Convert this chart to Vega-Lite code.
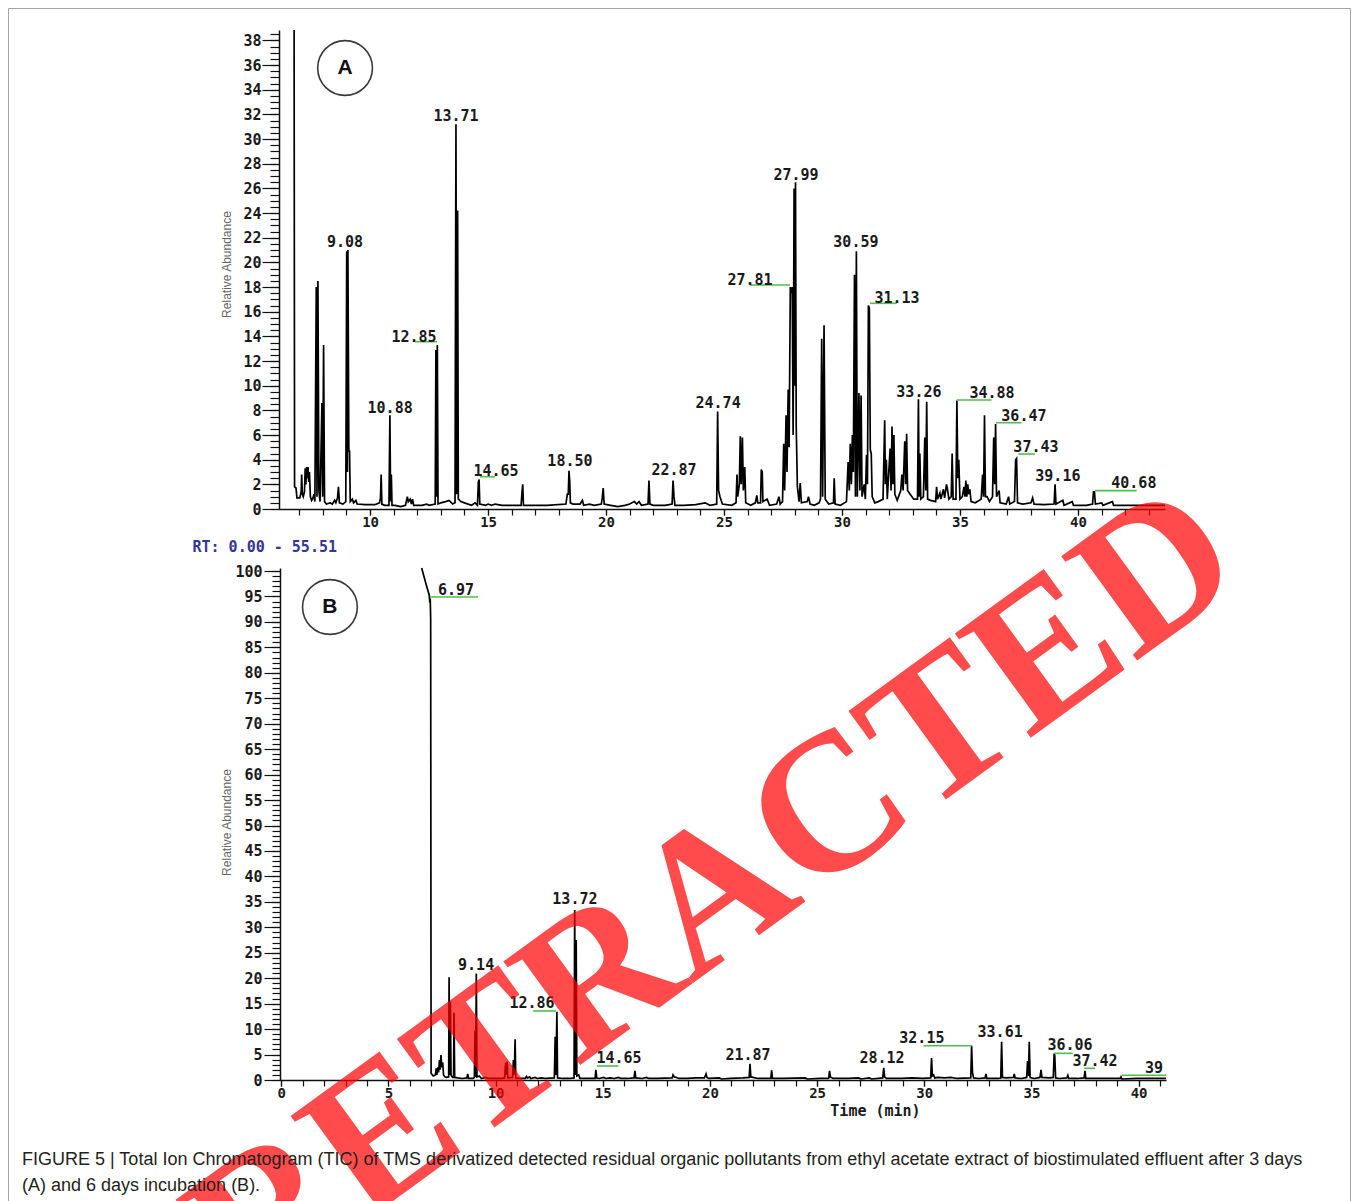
{
"$schema": "https://vega.github.io/schema/vega-lite/v6.json",
"width": 1342, "height": 1193,
"autosize": {"type": "none"},
"padding": {"left": 8, "top": 8, "right": 8, "bottom": 0},
"background": "white",
"config": {
  "view": {"stroke": "#a3a3a3", "strokeWidth": 1},
  "axis": {"grid": false, "domainColor": "#111111", "domainWidth": 1.5, "tickColor": "#111111", "tickWidth": 1.2,
    "labelFont": "DejaVu Sans Mono", "labelFontWeight": "bold", "labelFontSize": 15, "labelColor": "#1a1a1a",
    "labelOverlap": false, "labelBound": false, "labelFlush": false}
},
"title": {
  "text": ["FIGURE 5 | Total Ion Chromatogram (TIC) of TMS derivatized detected residual organic pollutants from ethyl acetate extract of biostimulated effluent after 3 days", "(A) and 6 days incubation (B)."],
  "orient": "none", "anchor": "start", "frame": "group", "dx": 14, "dy": 1143, "baseline": "top",
  "font": "Liberation Sans", "fontSize": 18, "fontWeight": "normal", "color": "#231f20", "lineHeight": 26
},
"datasets": {
  "traceA": [
    {"t":6.78,"v":38.85},{"t":6.80,"v":1.8},{"t":6.86,"v":1.7},{"t":6.90,"v":0.9},{"t":7.02,"v":0.9},{"t":7.08,"v":1.4},{"t":7.10,"v":2.8},{"t":7.13,"v":1.2},{"t":7.17,"v":1.0},{"t":7.22,"v":1.4},{"t":7.25,"v":3.3},{"t":7.28,"v":2.0},{"t":7.31,"v":3.4},{"t":7.34,"v":2.5},{"t":7.37,"v":3.4},{"t":7.40,"v":2.2},{"t":7.43,"v":3.0},{"t":7.47,"v":1.0},{"t":7.52,"v":0.7},{"t":7.58,"v":0.9},{"t":7.62,"v":1.2},{"t":7.66,"v":0.6},
    {"t":7.72,"v":18.0},{"t":7.75,"v":1.0},{"t":7.79,"v":18.5},{"t":7.83,"v":1.5},{"t":7.88,"v":0.6},{"t":7.96,"v":8.6},{"t":7.99,"v":1.0},{"t":8.03,"v":13.3},{"t":8.07,"v":0.6},{"t":8.15,"v":0.4},{"t":8.30,"v":0.5},{"t":8.40,"v":0.4},{"t":8.50,"v":0.7},{"t":8.55,"v":0.5},{"t":8.62,"v":0.9},{"t":8.66,"v":1.8},{"t":8.70,"v":0.5},{"t":8.85,"v":0.4},{"t":8.97,"v":0.6},
    {"t":9.01,"v":20.9},{"t":9.04,"v":3.0},{"t":9.06,"v":21.0},{"t":9.10,"v":4.7},{"t":9.13,"v":4.7},{"t":9.16,"v":0.6},{"t":9.25,"v":0.8},{"t":9.30,"v":0.5},{"t":9.40,"v":0.7},{"t":9.45,"v":0.4},{"t":9.80,"v":0.35},{"t":10.20,"v":0.35},{"t":10.40,"v":0.5},{"t":10.44,"v":0.9},{"t":10.47,"v":2.8},{"t":10.50,"v":0.4},{"t":10.62,"v":0.3},{"t":10.80,"v":0.3},{"t":10.84,"v":7.6},{"t":10.87,"v":0.6},{"t":10.90,"v":2.8},{"t":10.93,"v":0.3},
    {"t":11.05,"v":0.3},{"t":11.30,"v":0.2},{"t":11.50,"v":0.3},{"t":11.58,"v":1.0},{"t":11.62,"v":0.6},{"t":11.70,"v":0.8},{"t":11.75,"v":0.4},{"t":11.80,"v":0.8},{"t":11.85,"v":0.3},{"t":12.20,"v":0.3},{"t":12.40,"v":0.4},{"t":12.50,"v":0.3},{"t":12.76,"v":0.4},{"t":12.79,"v":12.9},{"t":12.82,"v":1.0},{"t":12.85,"v":13.3},{"t":12.88,"v":0.4},{"t":13.00,"v":0.5},{"t":13.20,"v":0.6},{"t":13.35,"v":0.7},{"t":13.50,"v":0.4},
    {"t":13.60,"v":0.5},{"t":13.64,"v":31.2},{"t":13.67,"v":1.2},{"t":13.71,"v":24.2},{"t":13.74,"v":0.8},{"t":13.85,"v":0.6},{"t":14.00,"v":0.5},{"t":14.30,"v":0.3},{"t":14.45,"v":0.5},{"t":14.55,"v":0.3},{"t":14.59,"v":2.2},{"t":14.62,"v":2.4},{"t":14.65,"v":0.4},{"t":14.90,"v":0.3},{"t":15.00,"v":0.4},{"t":15.15,"v":0.3},{"t":15.30,"v":0.4},{"t":15.60,"v":0.3},{"t":16.00,"v":0.3},
    {"t":16.40,"v":0.3},{"t":16.44,"v":1.4},{"t":16.47,"v":2.0},{"t":16.50,"v":0.3},{"t":16.80,"v":0.3},{"t":17.50,"v":0.3},{"t":18.30,"v":0.4},{"t":18.36,"v":1.2},{"t":18.40,"v":1.2},{"t":18.43,"v":3.1},{"t":18.46,"v":2.3},{"t":18.49,"v":0.5},{"t":18.60,"v":0.4},{"t":18.90,"v":0.4},{"t":19.00,"v":0.7},{"t":19.05,"v":0.3},{"t":19.30,"v":0.4},{"t":19.50,"v":0.3},{"t":19.80,"v":0.4},{"t":19.84,"v":0.9},{"t":19.88,"v":1.7},{"t":19.92,"v":0.4},
    {"t":20.20,"v":0.3},{"t":20.50,"v":0.2},{"t":20.80,"v":0.3},{"t":21.00,"v":0.4},{"t":21.20,"v":0.6},{"t":21.30,"v":0.4},{"t":21.40,"v":0.6},{"t":21.50,"v":0.3},{"t":21.78,"v":0.4},{"t":21.82,"v":2.3},{"t":21.86,"v":0.4},{"t":22.00,"v":0.3},{"t":22.50,"v":0.3},{"t":22.80,"v":0.4},{"t":22.84,"v":2.3},{"t":22.88,"v":1.0},{"t":22.92,"v":0.3},{"t":23.30,"v":0.3},{"t":23.80,"v":0.35},{"t":24.20,"v":0.5},{"t":24.40,"v":0.3},
    {"t":24.69,"v":0.4},{"t":24.73,"v":7.9},{"t":24.77,"v":1.5},{"t":24.83,"v":1.0},{"t":24.93,"v":0.4},{"t":25.33,"v":0.3},{"t":25.51,"v":0.5},{"t":25.55,"v":2.8},{"t":25.58,"v":1.0},{"t":25.65,"v":2.0},{"t":25.69,"v":5.9},{"t":25.73,"v":2.0},{"t":25.78,"v":5.8},{"t":25.82,"v":1.5},{"t":25.88,"v":3.4},{"t":25.92,"v":0.5},{"t":26.13,"v":0.3},{"t":26.33,"v":0.5},{"t":26.39,"v":1.1},{"t":26.43,"v":0.5},{"t":26.55,"v":0.5},{"t":26.58,"v":3.2},{"t":26.62,"v":3.0},{"t":26.65,"v":0.6},{"t":26.83,"v":0.8},{"t":26.93,"v":0.3},{"t":27.23,"v":0.4},{"t":27.33,"v":1.0},{"t":27.38,"v":0.4},
    {"t":27.48,"v":0.6},{"t":27.53,"v":5.3},{"t":27.57,"v":1.5},{"t":27.63,"v":7.6},{"t":27.67,"v":3.0},{"t":27.72,"v":9.7},{"t":27.76,"v":5.0},{"t":27.81,"v":18.0},{"t":27.85,"v":17.5},{"t":27.89,"v":18.0},{"t":27.93,"v":6.0},{"t":27.97,"v":26.0},{"t":28.00,"v":10.0},{"t":28.03,"v":26.5},{"t":28.06,"v":6.8},{"t":28.11,"v":1.8},{"t":28.18,"v":0.6},{"t":28.23,"v":2.1},{"t":28.28,"v":0.5},{"t":28.53,"v":0.6},{"t":28.58,"v":1.0},{"t":28.65,"v":0.4},{"t":28.83,"v":0.3},{"t":29.03,"v":0.5},
    {"t":29.09,"v":0.8},{"t":29.14,"v":13.8},{"t":29.18,"v":1.0},{"t":29.24,"v":14.9},{"t":29.29,"v":0.8},{"t":29.44,"v":0.4},{"t":29.64,"v":0.5},{"t":29.67,"v":2.5},{"t":29.71,"v":0.4},{"t":29.94,"v":0.3},{"t":30.19,"v":0.6},{"t":30.26,"v":3.8},{"t":30.31,"v":1.5},{"t":30.35,"v":5.3},{"t":30.40,"v":2.0},{"t":30.44,"v":6.0},{"t":30.48,"v":3.0},{"t":30.53,"v":19.0},{"t":30.57,"v":1.0},{"t":30.61,"v":20.9},{"t":30.65,"v":1.0},{"t":30.72,"v":9.4},{"t":30.76,"v":1.5},{"t":30.81,"v":9.2},{"t":30.85,"v":1.0},{"t":30.94,"v":2.0},{"t":30.99,"v":0.8},
    {"t":31.04,"v":4.4},{"t":31.08,"v":2.0},{"t":31.12,"v":16.5},{"t":31.16,"v":16.3},{"t":31.20,"v":4.8},{"t":31.24,"v":4.5},{"t":31.28,"v":1.0},{"t":31.39,"v":0.5},{"t":31.54,"v":0.6},{"t":31.74,"v":0.8},{"t":31.81,"v":7.2},{"t":31.84,"v":2.0},{"t":31.88,"v":4.0},{"t":31.92,"v":0.8},{"t":32.04,"v":4.9},{"t":32.08,"v":1.5},{"t":32.12,"v":6.7},{"t":32.16,"v":2.0},{"t":32.20,"v":6.0},{"t":32.24,"v":1.2},{"t":32.34,"v":0.7},{"t":32.49,"v":1.5},{"t":32.54,"v":2.8},{"t":32.59,"v":1.5},{"t":32.66,"v":5.5},{"t":32.70,"v":2.0},{"t":32.74,"v":6.1},{"t":32.78,"v":1.5},{"t":32.89,"v":1.2},
    {"t":33.04,"v":0.8},{"t":33.20,"v":0.8},{"t":33.24,"v":8.9},{"t":33.27,"v":1.0},{"t":33.30,"v":4.5},{"t":33.34,"v":0.8},{"t":33.45,"v":1.0},{"t":33.51,"v":5.8},{"t":33.55,"v":1.5},{"t":33.59,"v":8.7},{"t":33.63,"v":0.8},{"t":33.75,"v":0.7},{"t":33.97,"v":0.6},{"t":34.01,"v":1.8},{"t":34.05,"v":0.8},{"t":34.15,"v":1.3},{"t":34.19,"v":0.8},{"t":34.30,"v":1.6},{"t":34.35,"v":0.9},{"t":34.43,"v":2.0},{"t":34.48,"v":1.5},{"t":34.53,"v":0.8},{"t":34.63,"v":1.0},{"t":34.67,"v":4.5},{"t":34.71,"v":0.8},
    {"t":34.83,"v":0.8},{"t":34.87,"v":8.8},{"t":34.91,"v":2.5},{"t":34.95,"v":4.0},{"t":35.00,"v":0.8},{"t":35.10,"v":1.0},{"t":35.17,"v":1.8},{"t":35.21,"v":1.0},{"t":35.25,"v":2.3},{"t":35.29,"v":1.0},{"t":35.33,"v":2.0},{"t":35.37,"v":1.2},{"t":35.42,"v":1.6},{"t":35.47,"v":0.6},{"t":35.65,"v":0.5},{"t":35.90,"v":0.8},{"t":35.96,"v":2.8},{"t":36.00,"v":1.0},{"t":36.04,"v":7.6},{"t":36.08,"v":1.0},{"t":36.15,"v":1.0},{"t":36.25,"v":0.6},
    {"t":36.38,"v":1.0},{"t":36.43,"v":5.8},{"t":36.47,"v":2.0},{"t":36.51,"v":6.9},{"t":36.55,"v":1.0},{"t":36.66,"v":1.5},{"t":36.70,"v":0.5},{"t":36.96,"v":0.4},{"t":37.06,"v":1.0},{"t":37.11,"v":0.4},{"t":37.31,"v":0.6},{"t":37.36,"v":4.0},{"t":37.40,"v":4.1},{"t":37.44,"v":0.5},{"t":37.66,"v":0.4},{"t":38.01,"v":0.5},{"t":38.08,"v":0.9},{"t":38.14,"v":0.4},{"t":38.56,"v":0.35},{"t":38.99,"v":0.4},{"t":39.03,"v":2.0},{"t":39.07,"v":0.4},
    {"t":39.36,"v":0.7},{"t":39.41,"v":0.3},{"t":39.76,"v":0.6},{"t":39.81,"v":0.3},{"t":40.36,"v":0.3},{"t":40.62,"v":0.4},{"t":40.66,"v":1.4},{"t":40.70,"v":1.4},{"t":40.74,"v":0.4},{"t":41.01,"v":0.5},{"t":41.06,"v":0.3},{"t":41.46,"v":0.6},{"t":41.51,"v":0.3},{"t":42.00,"v":0.3},{"t":42.50,"v":0.3},{"t":43.00,"v":0.3},{"t":43.69,"v":0.3}
  ],
  "traceB": [
    {"t":6.55,"v":100.59},{"t":6.75,"v":97.5},{"t":6.90,"v":95.3},{"t":6.93,"v":93.8},{"t":6.95,"v":94.6},{"t":6.97,"v":90.6},{"t":6.99,"v":1.3},{"t":7.09,"v":0.8},{"t":7.19,"v":1.0},{"t":7.23,"v":2.3},{"t":7.26,"v":1.0},{"t":7.30,"v":2.5},{"t":7.34,"v":1.5},{"t":7.38,"v":3.9},{"t":7.41,"v":2.0},{"t":7.45,"v":4.9},{"t":7.49,"v":2.5},{"t":7.53,"v":3.5},{"t":7.57,"v":1.0},{"t":7.64,"v":0.6},{"t":7.69,"v":0.5},
    {"t":7.81,"v":0.6},{"t":7.83,"v":20.2},{"t":7.86,"v":1.0},{"t":7.89,"v":15.4},{"t":7.92,"v":1.0},{"t":7.99,"v":0.5},{"t":8.04,"v":0.5},{"t":8.06,"v":13.2},{"t":8.09,"v":0.5},{"t":8.24,"v":0.4},{"t":8.44,"v":0.3},{"t":8.66,"v":0.4},{"t":8.70,"v":1.2},{"t":8.74,"v":0.3},{"t":8.94,"v":0.3},{"t":9.01,"v":0.5},{"t":9.04,"v":9.7},{"t":9.07,"v":0.6},{"t":9.10,"v":20.9},{"t":9.13,"v":0.6},{"t":9.24,"v":0.8},{"t":9.34,"v":0.3},{"t":9.54,"v":0.5},{"t":9.64,"v":0.3},{"t":9.94,"v":0.3},
    {"t":10.24,"v":0.3},{"t":10.42,"v":0.4},{"t":10.47,"v":3.4},{"t":10.50,"v":1.0},{"t":10.54,"v":3.6},{"t":10.57,"v":0.4},{"t":10.79,"v":0.5},{"t":10.83,"v":3.9},{"t":10.87,"v":1.0},{"t":10.91,"v":8.0},{"t":10.94,"v":0.4},{"t":11.14,"v":0.3},{"t":11.39,"v":0.3},{"t":11.44,"v":0.7},{"t":11.49,"v":0.4},{"t":11.59,"v":0.6},{"t":11.64,"v":0.3},{"t":11.84,"v":0.5},{"t":11.94,"v":0.3},{"t":12.14,"v":0.4},{"t":12.34,"v":0.3},
    {"t":12.74,"v":0.4},{"t":12.78,"v":8.5},{"t":12.81,"v":1.0},{"t":12.86,"v":13.4},{"t":12.89,"v":0.4},{"t":13.14,"v":0.3},{"t":13.44,"v":0.3},{"t":13.66,"v":0.4},{"t":13.69,"v":33.4},{"t":13.72,"v":1.0},{"t":13.76,"v":27.5},{"t":13.79,"v":0.8},{"t":13.88,"v":1.0},{"t":13.93,"v":0.3},{"t":14.24,"v":0.3},{"t":14.44,"v":0.3},{"t":14.64,"v":0.3},{"t":14.68,"v":2.0},{"t":14.72,"v":0.4},{"t":14.84,"v":0.3},{"t":15.04,"v":0.5},{"t":15.14,"v":0.3},{"t":15.34,"v":0.4},{"t":15.54,"v":0.3},{"t":15.74,"v":0.5},{"t":15.84,"v":0.3},
    {"t":16.14,"v":0.3},{"t":16.46,"v":0.4},{"t":16.50,"v":1.8},{"t":16.54,"v":0.4},{"t":16.84,"v":0.3},{"t":17.04,"v":0.5},{"t":17.14,"v":0.3},{"t":17.54,"v":0.3},{"t":18.24,"v":0.4},{"t":18.28,"v":1.0},{"t":18.34,"v":0.6},{"t":18.44,"v":0.5},{"t":18.54,"v":0.3},{"t":18.94,"v":0.3},{"t":19.34,"v":0.4},{"t":19.74,"v":0.4},{"t":19.82,"v":1.2},{"t":19.86,"v":0.5},{"t":19.94,"v":0.3},{"t":20.44,"v":0.4},{"t":20.54,"v":0.2},{"t":20.94,"v":0.3},
    {"t":21.54,"v":0.4},{"t":21.83,"v":0.5},{"t":21.87,"v":3.2},{"t":21.91,"v":0.6},{"t":22.24,"v":0.3},{"t":22.84,"v":0.3},{"t":22.88,"v":1.9},{"t":22.92,"v":0.3},{"t":23.44,"v":0.3},{"t":24.44,"v":0.4},{"t":24.54,"v":0.2},{"t":25.14,"v":0.3},{"t":25.54,"v":0.3},{"t":25.58,"v":1.8},{"t":25.62,"v":0.6},{"t":25.74,"v":0.3},{"t":26.44,"v":0.3},{"t":26.94,"v":0.4},{"t":27.04,"v":0.2},{"t":27.44,"v":0.4},{"t":27.54,"v":0.2},
    {"t":28.06,"v":0.4},{"t":28.11,"v":2.4},{"t":28.15,"v":0.6},{"t":28.24,"v":0.3},{"t":28.94,"v":0.3},{"t":29.44,"v":0.4},{"t":29.94,"v":0.3},{"t":30.30,"v":0.4},{"t":30.34,"v":4.3},{"t":30.38,"v":0.8},{"t":30.44,"v":1.0},{"t":30.49,"v":0.4},{"t":30.64,"v":0.5},{"t":30.94,"v":0.4},{"t":31.24,"v":0.5},{"t":31.54,"v":0.3},
    {"t":32.17,"v":0.4},{"t":32.21,"v":6.7},{"t":32.25,"v":1.5},{"t":32.30,"v":0.4},{"t":32.54,"v":0.3},{"t":32.84,"v":0.4},{"t":32.88,"v":1.2},{"t":32.92,"v":0.3},{"t":33.44,"v":0.3},{"t":33.57,"v":0.4},{"t":33.61,"v":7.5},{"t":33.65,"v":0.5},{"t":33.84,"v":0.4},{"t":34.16,"v":0.5},{"t":34.20,"v":1.2},{"t":34.24,"v":0.4},{"t":34.54,"v":0.3},
    {"t":34.78,"v":0.5},{"t":34.82,"v":3.7},{"t":34.86,"v":0.8},{"t":34.90,"v":7.5},{"t":34.94,"v":0.5},{"t":35.14,"v":0.3},{"t":35.40,"v":0.5},{"t":35.45,"v":2.0},{"t":35.49,"v":0.5},{"t":35.84,"v":0.4},{"t":36.02,"v":0.5},{"t":36.06,"v":5.2},{"t":36.09,"v":4.8},{"t":36.13,"v":0.4},{"t":36.30,"v":0.3},{"t":36.65,"v":0.4},{"t":36.70,"v":0.9},{"t":36.74,"v":0.3},{"t":37.14,"v":0.3},
    {"t":37.46,"v":0.4},{"t":37.50,"v":1.8},{"t":37.54,"v":0.3},{"t":37.94,"v":0.3},{"t":38.44,"v":0.3},{"t":39.14,"v":0.3},{"t":39.18,"v":0.6},{"t":39.22,"v":0.2},{"t":39.94,"v":0.3},{"t":40.54,"v":0.3},{"t":41.28,"v":0.3}
  ],
  "labelsA": [
    {"label":"9.08","lx":8.94,"ly":21.65},{"label":"10.88","lx":10.85,"ly":8.19},{"label":"12.85","lx":11.86,"ly":13.95},{"label":"13.71","lx":13.64,"ly":31.87},{"label":"14.65","lx":15.34,"ly":3.08},{"label":"18.50","lx":18.47,"ly":3.89},{"label":"22.87","lx":22.88,"ly":3.16},{"label":"24.74","lx":24.75,"ly":8.6},{"label":"27.81","lx":26.10,"ly":18.57},{"label":"27.99","lx":28.05,"ly":27.09},{"label":"30.59","lx":30.59,"ly":21.65},{"label":"31.13","lx":32.33,"ly":17.11},{"label":"33.26","lx":33.26,"ly":9.49},{"label":"34.88","lx":36.36,"ly":9.41},{"label":"36.47","lx":37.71,"ly":7.54},{"label":"37.43","lx":38.22,"ly":5.03},{"label":"39.16","lx":39.15,"ly":2.68},{"label":"40.68","lx":42.37,"ly":2.11}
  ],
  "greenA": [
    {"x1":11.91,"x2":12.84,"y":13.57},{"x1":14.66,"x2":15.30,"y":2.62},{"x1":26.10,"x2":27.80,"y":18.17},{"x1":31.19,"x2":32.32,"y":16.68},{"x1":34.86,"x2":36.34,"y":8.84},{"x1":36.53,"x2":37.61,"y":7.0},{"x1":37.47,"x2":38.18,"y":4.46},{"x1":40.72,"x2":42.49,"y":1.49}
  ],
  "labelsB": [
    {"label":"6.97","lx":8.15,"ly":96.3},{"label":"9.14","lx":9.09,"ly":22.6},{"label":"12.86","lx":11.70,"ly":15.1},{"label":"13.72","lx":13.70,"ly":35.6},{"label":"14.65","lx":15.76,"ly":4.3},{"label":"21.87","lx":21.78,"ly":4.9},{"label":"28.12","lx":28.03,"ly":4.3},{"label":"32.15","lx":29.89,"ly":8.25},{"label":"33.61","lx":33.54,"ly":9.4},{"label":"36.06","lx":36.80,"ly":6.85},{"label":"37.42","lx":37.97,"ly":3.75}
  ],
  "labelsBEdge": [
    {"label":"39.16","lx":40.30,"ly":2.36}
  ],
  "greenB": [
    {"x1":6.94,"x2":9.18,"y":94.9},{"x1":11.75,"x2":12.82,"y":13.56},{"x1":14.72,"x2":15.73,"y":2.75},{"x1":29.96,"x2":32.22,"y":6.74},{"x1":36.06,"x2":36.93,"y":5.24},{"x1":37.47,"x2":37.97,"y":2.3},{"x1":39.22,"x2":41.28,"y":0.92}
  ]
},
"resolve": {"scale": {"x": "independent", "y": "independent"}, "axis": {"x": "independent", "y": "independent"}},
"layer": [
  {"resolve": {"axis": {"x": "independent", "y": "independent"}},
   "layer": [
    {"data": {"name": "traceA"},
     "mark": {"type": "line", "color": "#000000", "strokeWidth": 1.7, "interpolate": "linear"},
     "encoding": {
       "x": {"field": "t", "type": "quantitative",
             "scale": {"domain": [6.14, 43.69], "range": [271, 1157], "nice": false, "zero": false},
             "axis": {"orient": "bottom", "offset": -692,
                      "values": [10,15,20,25,30,35,40],
                      "tickSize": 6, "labelPadding": 0, "labelFontSize": 14, "format": "d",
                      "title": "RT: 0.00 - 55.51", "titleX": 184, "titleY": 37, "titleAlign": "left", "titleBaseline": "middle",
                      "titleFont": "DejaVu Sans Mono", "titleFontWeight": "bold", "titleFontSize": 15, "titleColor": "#34349a"}},
       "y": {"field": "v", "type": "quantitative",
             "scale": {"domain": [0, 38.85], "range": [501, 22], "nice": false, "zero": false},
             "axis": {"orient": "left", "offset": -271,
                      "values": [0,2,4,6,8,10,12,14,16,18,20,22,24,26,28,30,32,34,36,38],
                      "tickSize": 17, "labelPadding": 1, "format": "d",
                      "title": "Relative Abundance", "titleX": -53, "titleY": 256, "titleAngle": 270, "titleBaseline": "middle", "titleAlign": "center",
                      "titleFont": "Liberation Sans", "titleFontWeight": "normal", "titleFontSize": 12, "titleColor": "#666666"}}
     }},
    {"data": {"name": "greenA"},
     "mark": {"type": "rule", "color": "#4cbf4c", "strokeWidth": 1.6},
     "encoding": {"x": {"field": "x1", "type": "quantitative",
                        "axis": {"orient": "bottom", "offset": -692, "domain": false, "labels": false, "title": null, "tickSize": 6,
                                 "values": [7,8,9,10,11,12,13,14,15,16,17,18,19,20,21,22,23,24,25,26,27,28,29,30,31,32,33,34,35,36,37,38,39,40,41,42,43]}},
                  "x2": {"field": "x2"},
                  "y": {"field": "y", "type": "quantitative",
                        "axis": {"orient": "left", "offset": -271, "domain": false, "labels": false, "title": null, "tickSize": 9,
                                 "values": [0,0.5,1,1.5,2,2.5,3,3.5,4,4.5,5,5.5,6,6.5,7,7.5,8,8.5,9,9.5,10,10.5,11,11.5,12,12.5,13,13.5,14,14.5,15,15.5,16,16.5,17,17.5,18,18.5,19,19.5,20,20.5,21,21.5,22,22.5,23,23.5,24,24.5,25,25.5,26,26.5,27,27.5,28,28.5,29,29.5,30,30.5,31,31.5,32,32.5,33,33.5,34,34.5,35,35.5,36,36.5,37,37.5,38,38.5]}}}},
    {"data": {"name": "labelsA"},
     "mark": {"type": "text", "font": "DejaVu Sans Mono", "fontWeight": "bold", "fontSize": 15, "color": "#1a1a1a", "align": "center", "baseline": "middle"},
     "encoding": {"x": {"field": "lx", "type": "quantitative", "axis": null},
                  "y": {"field": "ly", "type": "quantitative", "axis": null},
                  "text": {"field": "label"}}},
    {"data": {"values": [{}]},
     "mark": {"type": "point", "shape": "circle", "size": 3000, "filled": false, "stroke": "#3a3a3a", "strokeWidth": 1.6, "opacity": 1},
     "encoding": {"x": {"datum": 8.94, "type": "quantitative", "axis": null}, "y": {"datum": 35.77, "type": "quantitative", "axis": null}}},
    {"data": {"values": [{}]},
     "mark": {"type": "text", "text": "A", "font": "Liberation Sans", "fontWeight": "bold", "fontSize": 21, "color": "#111111", "align": "center", "baseline": "middle"},
     "encoding": {"x": {"datum": 8.94, "type": "quantitative", "axis": null}, "y": {"datum": 35.77, "type": "quantitative", "axis": null}}}
  ]},
  {"resolve": {"axis": {"x": "independent", "y": "independent"}},
   "layer": [
    {"data": {"name": "traceB"},
     "mark": {"type": "line", "color": "#000000", "strokeWidth": 1.7, "interpolate": "linear"},
     "encoding": {
       "x": {"field": "t", "type": "quantitative",
             "scale": {"domain": [-0.06, 41.28], "range": [272, 1158], "nice": false, "zero": false},
             "axis": {"orient": "bottom", "offset": -121,
                      "values": [0,5,10,15,20,25,30,35,40],
                      "tickSize": 6, "labelPadding": 0, "labelFontSize": 14, "format": "d",
                      "title": "Time (min)", "titleX": 867, "titleY": 30, "titleAlign": "center", "titleBaseline": "middle",
                      "titleFont": "DejaVu Sans Mono", "titleFontWeight": "bold", "titleFontSize": 15, "titleColor": "#1a1a1a"}},
       "y": {"field": "v", "type": "quantitative",
             "scale": {"domain": [0, 100.59], "range": [1072, 560], "nice": false, "zero": false},
             "axis": {"orient": "left", "offset": -272,
                      "values": [0,5,10,15,20,25,30,35,40,45,50,55,60,65,70,75,80,85,90,95,100],
                      "tickSize": 16, "labelPadding": 2, "format": "d",
                      "title": "Relative Abundance", "titleX": -54, "titleY": 814, "titleAngle": 270, "titleBaseline": "middle", "titleAlign": "center",
                      "titleFont": "Liberation Sans", "titleFontWeight": "normal", "titleFontSize": 12, "titleColor": "#666666"}}
     }},
    {"data": {"name": "greenB"},
     "mark": {"type": "rule", "color": "#4cbf4c", "strokeWidth": 1.6},
     "encoding": {"x": {"field": "x1", "type": "quantitative",
                        "axis": {"orient": "bottom", "offset": -121, "domain": false, "labels": false, "title": null, "tickSize": 6,
                                 "values": [0,1,2,3,4,5,6,7,8,9,10,11,12,13,14,15,16,17,18,19,20,21,22,23,24,25,26,27,28,29,30,31,32,33,34,35,36,37,38,39,40,41]}},
                  "x2": {"field": "x2"},
                  "y": {"field": "y", "type": "quantitative",
                        "axis": {"orient": "left", "offset": -272, "domain": false, "labels": false, "title": null, "tickSize": 8,
                                 "values": [0,1,2,3,4,5,6,7,8,9,10,11,12,13,14,15,16,17,18,19,20,21,22,23,24,25,26,27,28,29,30,31,32,33,34,35,36,37,38,39,40,41,42,43,44,45,46,47,48,49,50,51,52,53,54,55,56,57,58,59,60,61,62,63,64,65,66,67,68,69,70,71,72,73,74,75,76,77,78,79,80,81,82,83,84,85,86,87,88,89,90,91,92,93,94,95,96,97,98,99,100]}}}},
    {"data": {"name": "labelsB"},
     "mark": {"type": "text", "font": "DejaVu Sans Mono", "fontWeight": "bold", "fontSize": 15, "color": "#1a1a1a", "align": "center", "baseline": "middle"},
     "encoding": {"x": {"field": "lx", "type": "quantitative", "axis": null},
                  "y": {"field": "ly", "type": "quantitative", "axis": null},
                  "text": {"field": "label"}}},
    {"data": {"name": "labelsBEdge"},
     "mark": {"type": "text", "font": "DejaVu Sans Mono", "fontWeight": "bold", "fontSize": 15, "color": "#1a1a1a", "align": "left", "baseline": "middle", "limit": 22, "ellipsis": "\u200b"},
     "encoding": {"x": {"field": "lx", "type": "quantitative", "axis": null},
                  "y": {"field": "ly", "type": "quantitative", "axis": null},
                  "text": {"field": "label"}}},
    {"data": {"values": [{}]},
     "mark": {"type": "point", "shape": "circle", "size": 3000, "filled": false, "stroke": "#3a3a3a", "strokeWidth": 1.6, "opacity": 1},
     "encoding": {"x": {"datum": 2.27, "type": "quantitative", "axis": null}, "y": {"datum": 92.93, "type": "quantitative", "axis": null}}},
    {"data": {"values": [{}]},
     "mark": {"type": "text", "text": "B", "font": "Liberation Sans", "fontWeight": "bold", "fontSize": 21, "color": "#111111", "align": "center", "baseline": "middle"},
     "encoding": {"x": {"datum": 2.27, "type": "quantitative", "axis": null}, "y": {"datum": 92.93, "type": "quantitative", "axis": null}}},
    {"data": {"values": [{}]},
     "mark": {"type": "text", "text": "RETRACTED", "font": "Liberation Serif", "fontWeight": "bold", "fontSize": 197, "angle": -36,
              "color": "#ff0000", "opacity": 0.7, "align": "center", "baseline": "middle"},
     "encoding": {"x": {"datum": 20.21, "type": "quantitative", "axis": null}, "y": {"datum": 36.42, "type": "quantitative", "axis": null}}}
  ]}
]
}
